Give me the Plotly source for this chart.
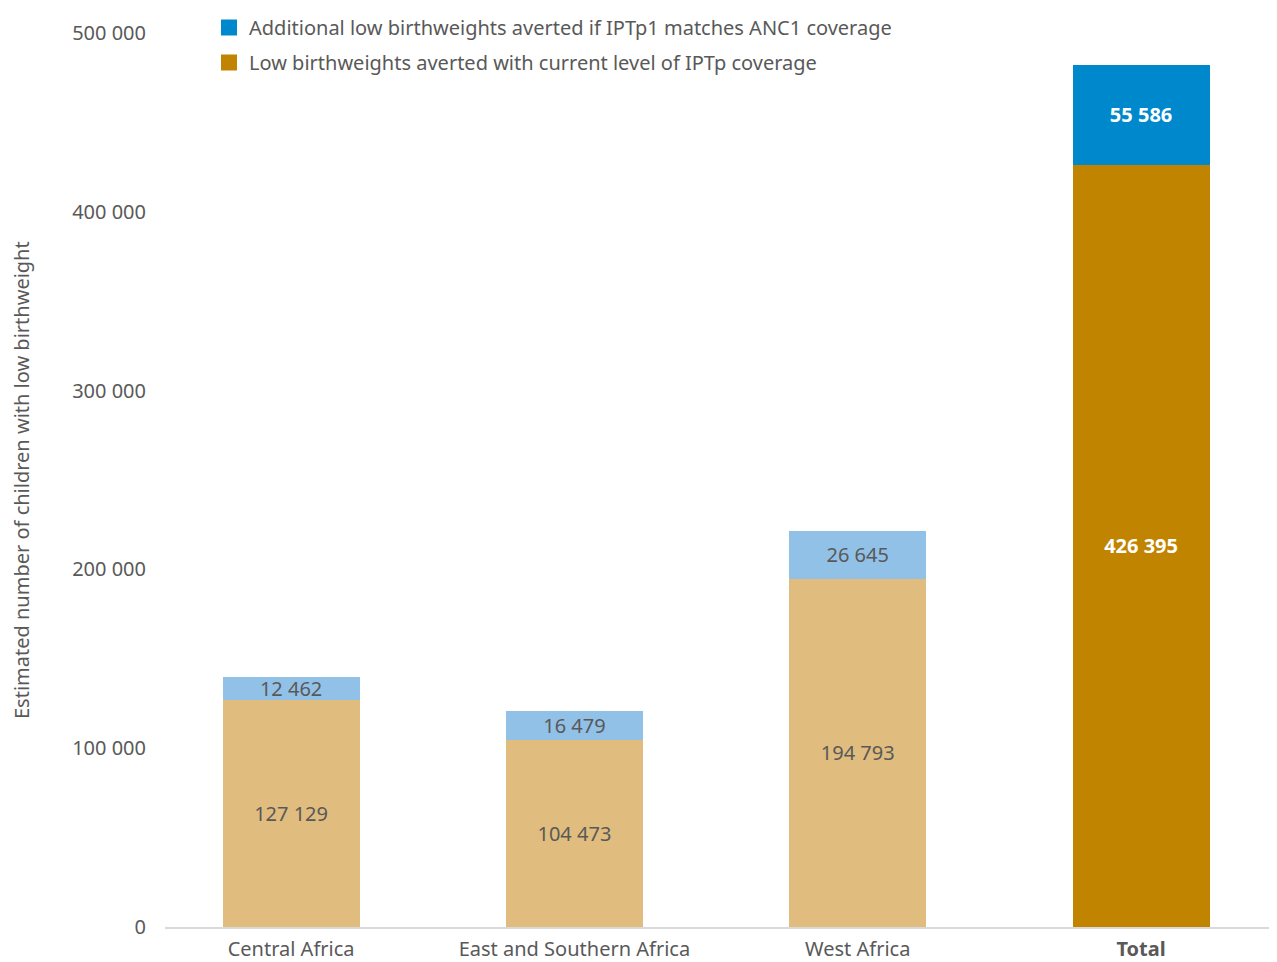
import plotly.graph_objects as go

categories = ["Central Africa", "East and Southern Africa", "West Africa", "Total"]
tick_labels = ["Central Africa", "East and Southern Africa", "West Africa", "<b>Total</b>"]
current_averted = [127129, 104473, 194793, 426395]
additional_averted = [12462, 16479, 26645, 55586]
y_ticks = [0, 100000, 200000, 300000, 400000, 500000]

name_add = "Additional low birthweights averted if IPTp1 matches ANC1 coverage"
name_cur = "Low birthweights averted with current level of IPTp coverage"

gold_light, gold_dark = "#e0bd7e", "#c08400"
blue_light, blue_dark = "#92c1e8", "#0088cc"
gray = "#595959"
font = "Noto Sans"

# page body has an 8px margin; figure coords = screen coords - 8
OFF = 8
L, R = 165 - OFF, 1277            # plot left/right in figure px (right runs to page edge)
TOP, BOT = 33 - OFF, 927 - OFF    # plot top/bottom in figure px
PAPER_H = BOT                      # paper from 0 to BOT (t=0)
PW = R - L


def fmt(v):
    return f"{v:,}".replace(",", " ")


cur_colors = [gold_light] * 3 + [gold_dark]
add_colors = [blue_light] * 3 + [blue_dark]
text_colors = [gray] * 3 + ["white"]
cur_text = [fmt(v) for v in current_averted]
add_text = [fmt(v) for v in additional_averted]
cur_text[3] = "<b>" + cur_text[3] + "</b>"
add_text[3] = "<b>" + add_text[3] + "</b>"

fig = go.Figure()
fig.add_trace(go.Bar(
    x=categories, y=current_averted, marker=dict(color=cur_colors, line=dict(width=0)),
    text=cur_text, textposition="inside", insidetextanchor="middle", constraintext="none",
    textfont=dict(color=text_colors, size=20, family=font),
    showlegend=False, hoverinfo="y", name=name_cur,
))
fig.add_trace(go.Bar(
    x=categories, y=additional_averted, marker=dict(color=add_colors, line=dict(width=0)),
    text=add_text, textposition="inside", insidetextanchor="middle", constraintext="none",
    textfont=dict(color=text_colors, size=20, family=font),
    showlegend=False, hoverinfo="y", name=name_add,
))
# legend entries
fig.add_trace(go.Scatter(x=[None], y=[None], mode="markers", name=name_add, legendgroup="a",
                         marker=dict(color=blue_dark, symbol="square", size=16)))
fig.add_trace(go.Scatter(x=[None], y=[None], mode="markers", name=name_cur, legendgroup="b",
                         marker=dict(color=gold_dark, symbol="square", size=16)))

fig.add_annotation(
    text="Estimated number of children with low birthweight",
    xref="paper", yref="paper", x=(21 - OFF - L) / PW, y=(PAPER_H - (480 - OFF)) / PAPER_H,
    xanchor="center", yanchor="middle", textangle=-90, showarrow=False,
    font=dict(size=20, color=gray, family=font),
)

fig.update_layout(
    barmode="stack",
    bargap=0.5165,
    width=1277, height=962,
    margin=dict(l=L, r=1277 - R, t=0, b=962 - BOT, autoexpand=False),
    plot_bgcolor="white", paper_bgcolor="white",
    font=dict(family=font, color=gray, size=20),
    showlegend=True,
    legend=dict(
        x=(209 - OFF - L) / PW, y=1.0, xanchor="left", yanchor="top",
        traceorder="grouped", tracegroupgap=6, font=dict(size=20, color=gray, family=font),
        bgcolor="rgba(0,0,0,0)",
    ),
    xaxis=dict(
        categoryorder="array", categoryarray=categories,
        tickmode="array", tickvals=categories, ticktext=tick_labels,
        range=[-0.445, 3.508], showline=True, linecolor="#d9d9d9", linewidth=1.5,
        ticks="", tickfont=dict(size=20, color=gray, family=font), showgrid=False,
        automargin=False, ticklabelstandoff=3,
    ),
    yaxis=dict(
        domain=[0, (BOT - TOP) / PAPER_H],
        range=[0, 500000], tickvals=y_ticks, ticktext=[fmt(v) for v in y_ticks],
        showgrid=False, zeroline=False, showline=False, ticks="",
        tickfont=dict(size=20, color=gray, family=font),
        automargin=False, ticklabelstandoff=18,
    ),
)
fig.write_html("out.html")
